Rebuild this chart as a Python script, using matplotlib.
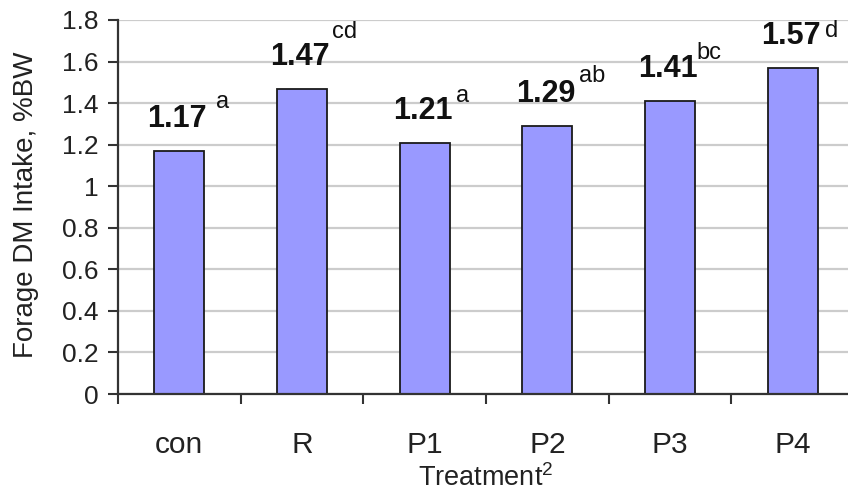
import numpy as np
import matplotlib.pyplot as plt

plt.rcParams['font.family'] = ['Liberation Sans', 'DejaVu Sans']
plt.rcParams['mathtext.fontset'] = 'custom'
plt.rcParams['mathtext.rm'] = 'Liberation Sans'
plt.rcParams['mathtext.default'] = 'regular'

# data
treatments = ['con', 'R', 'P1', 'P2', 'P3', 'P4']
intake = [1.17, 1.47, 1.21, 1.29, 1.41, 1.57]
letters = ['a', 'cd', 'a', 'ab', 'bc', 'd']

# hand placement of the significance letters (px: right shift, rise)
sup_dx = [9, 2, 4, 4, -1, 5]
sup_rise = [21, 29, 19, 22, 20, 9]

PX = 0.72  # points per pixel at dpi 100

fig = plt.figure(figsize=(8.48, 4.95), dpi=100)
ax = fig.add_axes([118 / 848, 101 / 495, 736 / 848, 374 / 495])

x = np.arange(len(treatments))
ax.bar(x, intake, width=0.41, color='#9999ff', edgecolor='#1a1a1a',
       linewidth=1.3, zorder=3)

ax.set_xlim(-0.5, len(treatments) - 0.5)
ax.set_ylim(0, 1.8)
ax.set_yticks(np.arange(0, 1.81, 0.2))
ax.set_yticklabels(['0', '0.2', '0.4', '0.6', '0.8', '1', '1.2', '1.4', '1.6', '1.8'])
ax.grid(axis='y', color='#cccccc', linewidth=1.6, zorder=0)

ax.set_xticks(x)
ax.set_xticklabels(treatments, fontsize=21.5, color='#222222')
ax.set_xticks(np.arange(-0.5, len(treatments)), minor=True)
ax.tick_params(axis='x', which='major', length=0, pad=37 * PX)
ax.tick_params(axis='x', which='minor', length=10 * PX, width=1.5,
               direction='out', color='#333333')
ax.tick_params(axis='y', length=10 * PX, width=1.5, color='#333333',
               labelsize=19, labelcolor='#222222', pad=7)

for side in ['top', 'right']:
    ax.spines[side].set_visible(False)
for side in ['left', 'bottom']:
    ax.spines[side].set_color('#333333')
    ax.spines[side].set_linewidth(1.6)
    ax.spines[side].set_zorder(4)

ax.set_ylabel('Forage DM Intake, %BW', fontsize=20, color='#222222')
ax.yaxis.set_label_coords(-0.108, 0.505)
ax.set_xlabel('Treatment$^{2}$', fontsize=19.5, color='#222222', labelpad=4)

for i, v in enumerate(intake):
    num = ax.annotate(f'{v:.2f}', xy=(i, v), xytext=(-2 * PX, 24 * PX),
                      textcoords='offset points', ha='center', va='baseline',
                      fontsize=22, fontweight='bold', color='#111111')
    ax.annotate(letters[i], xy=(1, 0), xycoords=num,
                xytext=(sup_dx[i] * PX, sup_rise[i] * PX),
                textcoords='offset points', ha='left', va='bottom',
                fontsize=17, color='#111111')

fig.savefig('out.png', dpi=100)
